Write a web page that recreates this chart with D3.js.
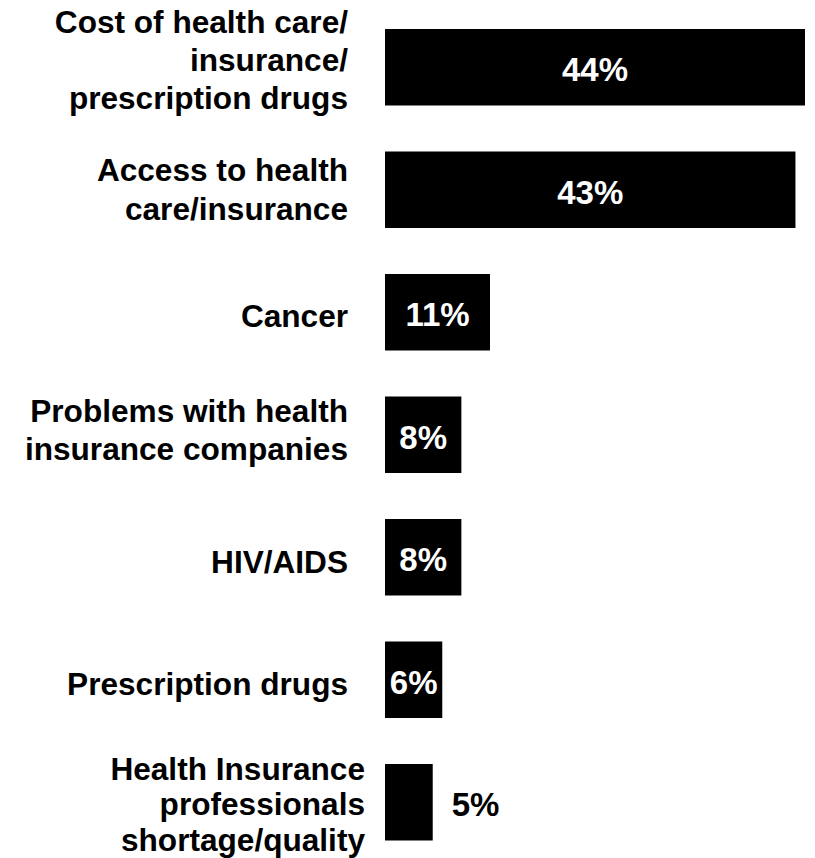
<!DOCTYPE html>
<html>
<head>
<meta charset="utf-8">
<script src="https://cdn.jsdelivr.net/npm/d3@7"></script>
<style>
  html, body { margin: 0; padding: 0; background: #ffffff; }
  svg { display: block; }
  text { font-family: "Liberation Sans", Arial, Helvetica, sans-serif; font-weight: bold; }
</style>
</head>
<body>
<svg id="chart" width="815" height="858"></svg>
<script>
// ---- data ----
const categories = [
  ["Cost of health care/", "insurance/", "prescription drugs"],
  ["Access to health", "care/insurance"],
  ["Cancer"],
  ["Problems with health", "insurance companies"],
  ["HIV/AIDS"],
  ["Prescription drugs"],
  ["Health Insurance", "professionals", "shortage/quality"]
];
const values = [44, 43, 11, 8, 8, 6, 5];
const valueLabels = ["44%", "43%", "11%", "8%", "8%", "6%", "5%"];

// ---- layout (label nudges, not data) ----
const labelDy = [4, 11, 15, 6, 16, 15, 13];
const labelDx = [0, 0, 0, 0, 0, 0, 17];
const lineHeights = [38, 39, 38, 37.5, 38, 38, 35.5];

const svg = d3.select("#chart");
const idx = d3.range(values.length);

const x = d3.scaleLinear().domain([0, 44]).range([385, 805]);
const y = d3.scaleBand().domain(idx).range([29, 840.5]).paddingInner(0.3755).paddingOuter(0);

// bars
svg.append("g").selectAll("rect")
  .data(idx).join("rect")
  .attr("x", x(0))
  .attr("y", i => y(i))
  .attr("width", i => x(values[i]) - x(0))
  .attr("height", y.bandwidth())
  .attr("fill", "#000");

// category labels
const labelRight = 348;
const lg = svg.append("g");
idx.forEach(i => {
  const lines = categories[i];
  const c = y(i) + y.bandwidth() / 2;
  const lh = lineHeights[i];
  const mid = c + labelDy[i];
  const first = mid - (lines.length - 1) * lh / 2;
  const t = lg.append("text")
    .attr("text-anchor", "end")
    .attr("font-size", 31.6)
    .attr("fill", "#000");
  lines.forEach((ln, k) => {
    t.append("tspan")
      .attr("x", labelRight + labelDx[i])
      .attr("y", first + k * lh)
      .text(ln);
  });
});

// value labels
const vg = svg.append("g");
idx.forEach(i => {
  const c = y(i) + y.bandwidth() / 2;
  const x0 = x(0), x1 = x(values[i]);
  const t = vg.append("text")
    .attr("font-size", 33)
    .attr("y", c + 14)
    .text(valueLabels[i]);
  const w = t.node().getComputedTextLength();
  if (w + 4 <= x1 - x0) {
    t.attr("x", (x0 + x1) / 2).attr("text-anchor", "middle").attr("fill", "#fff");
  } else {
    t.attr("x", x1 + 19).attr("text-anchor", "start").attr("fill", "#000");
  }
});
</script>
</body>
</html>
